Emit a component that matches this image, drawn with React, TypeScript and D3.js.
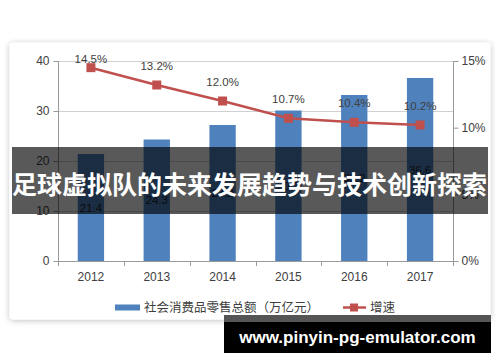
import React, { useEffect, useRef } from 'react'
import * as d3 from 'd3'

const years = ['2012', '2013', '2014', '2015', '2016', '2017']
const sales = [21.4, 24.3, 27.2, 30.1, 33.2, 36.6]
const growth = [14.5, 13.2, 12.0, 10.7, 10.4, 10.2]
const leftTicks = [0, 10, 20, 30, 40]
const rightTicks = [0, 5, 10, 15]
const salesName = '社会消费品零售总额（万亿元）'
const growthName = '增速'
const title = '足球虚拟队的未来发展趋势与技术创新探索'
const site = 'www.pinyin-pg-emulator.com'

const W = 500
const H = 362
const blue = '#4F81BD'
const red = '#C0504D'
const num = '"Liberation Sans", Arial, sans-serif'
const cjk = '"Noto Sans CJK SC", sans-serif'

const App = () => {
  const ref = useRef<SVGSVGElement>(null)

  useEffect(() => {
    const svg = d3.select(ref.current)
    svg.selectAll('*').remove()

    const left = 58, right = 453, top = 61, bottom = 261

    const x = d3.scaleBand().domain(years).range([left, right])
      .paddingInner(0.6).paddingOuter(0.3)
    const yL = d3.scaleLinear().domain([0, 40]).range([bottom, top])
    const yR = d3.scaleLinear().domain([0, 15]).range([bottom, top])
    const cx = (d: string) => x(d)! + x.bandwidth() / 2

    const defs = svg.append('defs')
    const f = defs.append('filter').attr('id', 'shadow')
      .attr('x', '-5%').attr('y', '-5%').attr('width', '110%').attr('height', '115%')
    f.append('feGaussianBlur').attr('in', 'SourceAlpha').attr('stdDeviation', 3)
    f.append('feOffset').attr('dx', 0).attr('dy', 1).attr('result', 'b')
    f.append('feComponentTransfer').append('feFuncA').attr('type', 'linear').attr('slope', 0.25)
    const m = f.append('feMerge')
    m.append('feMergeNode')
    m.append('feMergeNode').attr('in', 'SourceGraphic')

    // card
    svg.append('rect')
      .attr('x', 9.5).attr('y', 42.5).attr('width', 481).attr('height', 277).attr('rx', 4)
      .attr('fill', '#fff').attr('filter', 'url(#shadow)')

    // gridlines
    svg.append('g').selectAll('line')
      .data(leftTicks.filter(d => d > 0))
      .enter().append('line')
      .attr('x1', left).attr('x2', right)
      .attr('y1', d => Math.round(yL(d)) + 0.5).attr('y2', d => Math.round(yL(d)) + 0.5)
      .attr('stroke', '#d0d0d0')

    // bars
    svg.append('g').selectAll('rect')
      .data(sales)
      .enter().append('rect')
      .attr('x', (d, i) => x(years[i])!)
      .attr('width', x.bandwidth())
      .attr('y', d => yL(d))
      .attr('height', d => bottom - yL(d))
      .attr('fill', blue)

    // bar labels sit at the middle of each bar
    svg.append('g').selectAll('text')
      .data(sales)
      .enter().append('text')
      .attr('x', (d, i) => cx(years[i]))
      .attr('y', d => yL(d / 2) + 4)
      .attr('text-anchor', 'middle')
      .attr('font-family', num).attr('font-size', 11.5)
      .attr('fill', '#1b2430')
      .text(d => d.toFixed(1))

    // axes
    const axL = svg.append('g').attr('transform', `translate(${left + 0.5},0)`)
      .call(d3.axisLeft(yL).tickValues(leftTicks).tickSize(5).tickPadding(4))
    const axR = svg.append('g').attr('transform', `translate(${right + 0.5},0)`)
      .call(d3.axisRight(yR).tickValues(rightTicks).tickSize(5).tickPadding(3)
        .tickFormat(d => `${d}%`))
    for (const ax of [axL, axR]) {
      ax.select('.domain').attr('stroke', '#999').attr('d', `M0,${top}V${bottom}`)
      ax.selectAll('.tick line').attr('stroke', '#999')
      ax.selectAll('.tick text').attr('font-family', num).attr('font-size', 12).attr('fill', '#404040')
    }

    // x axis, ticks between categories
    const bounds = d3.range(years.length + 1).map(i => left + i * (right - left) / years.length)
    const gx = svg.append('g')
    gx.append('line').attr('x1', left).attr('x2', right)
      .attr('y1', bottom + 0.5).attr('y2', bottom + 0.5).attr('stroke', '#999')
    gx.selectAll('line.t').data(bounds).enter().append('line').attr('class', 't')
      .attr('x1', d => Math.round(d) + 0.5).attr('x2', d => Math.round(d) + 0.5)
      .attr('y1', bottom).attr('y2', bottom + 5).attr('stroke', '#999')
    gx.selectAll('text').data(years).enter().append('text')
      .attr('x', d => cx(d)).attr('y', 281)
      .attr('text-anchor', 'middle')
      .attr('font-family', num).attr('font-size', 12).attr('fill', '#404040')
      .text(d => d)

    // growth line
    const line = d3.line<number>()
      .x((d, i) => cx(years[i]))
      .y(d => yR(d))
    svg.append('path').datum(growth)
      .attr('d', line).attr('fill', 'none')
      .attr('stroke', red).attr('stroke-width', 2.5)
    svg.append('g').selectAll('rect')
      .data(growth)
      .enter().append('rect')
      .attr('x', (d, i) => cx(years[i]) - 4.5)
      .attr('y', d => yR(d) - 4.5)
      .attr('width', 9).attr('height', 9)
      .attr('fill', red)
    svg.append('g').selectAll('text')
      .data(growth)
      .enter().append('text')
      .attr('x', (d, i) => cx(years[i]))
      .attr('y', d => Math.max(63, yR(d) - 15))
      .attr('text-anchor', 'middle')
      .attr('font-family', num).attr('font-size', 11.5).attr('fill', '#404040')
      .text(d => `${d.toFixed(1)}%`)

    // legend
    const lg = svg.append('g')
    lg.append('rect').attr('x', 115).attr('y', 304.5).attr('width', 25).attr('height', 6).attr('fill', blue)
    lg.append('text').attr('x', 144).attr('y', 312)
      .attr('font-family', cjk).attr('font-size', 12.5).attr('fill', '#404040')
      .text(salesName)
    lg.append('line').attr('x1', 343).attr('x2', 366).attr('y1', 307.5).attr('y2', 307.5)
      .attr('stroke', red).attr('stroke-width', 2.5)
    lg.append('rect').attr('x', 350).attr('y', 303.5).attr('width', 8).attr('height', 8).attr('fill', red)
    lg.append('text').attr('x', 370).attr('y', 312)
      .attr('font-family', cjk).attr('font-size', 12.5).attr('fill', '#404040')
      .text(growthName)

    // title banner over the chart
    svg.append('rect').attr('x', 12).attr('y', 147).attr('width', 476).attr('height', 67)
      .attr('fill', '#000').attr('fill-opacity', 0.65)
    svg.append('text').attr('x', 249.5).attr('y', 194)
      .attr('text-anchor', 'middle')
      .attr('font-family', cjk).attr('font-weight', 700).attr('font-size', 25)
      .attr('fill', '#fff')
      .text(title)

    // watermark
    svg.append('rect').attr('x', 224).attr('y', 315).attr('width', 267).attr('height', 38).attr('fill', '#000')
    svg.append('rect').attr('x', 224).attr('y', 315).attr('width', 267).attr('height', 7).attr('fill', '#555')
    svg.append('text').attr('x', 357.5).attr('y', 343)
      .attr('text-anchor', 'middle')
      .attr('font-family', num).attr('font-weight', 700).attr('font-size', 17)
      .attr('fill', '#fff')
      .text(site)
  }, [])

  return (
    <div style={{ position: 'absolute', left: 0, top: 0 }}>
      <svg ref={ref} width={W} height={H} style={{ display: 'block', background: '#fff' }} />
    </div>
  )
}

export default App
